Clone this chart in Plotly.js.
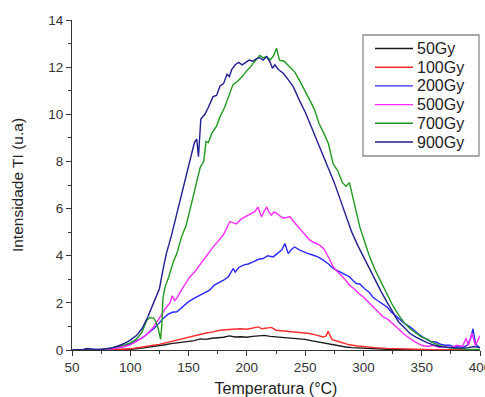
<!DOCTYPE html>
<html>
<head>
<meta charset="utf-8">
<script src="https://cdn.plot.ly/plotly-3.0.1.min.js"></script>
<style>html,body{margin:0;padding:0;background:#fff;}#chart{width:485px;height:397px;}</style>
</head>
<body>
<div id="chart"></div>
<script>
// Temperatures (°C) and TL intensities (u.a) per dose
const seriesNames = ["50Gy", "100Gy", "200Gy", "500Gy", "700Gy", "900Gy"];

const t50 = [50,60,63,66,70,80,90,100,105,110,115,120,125,130,135,140,145,150,155,160,165,170,175,180,185,190,195,200,205,210,215,220,225,230,235,240,245,250,255,260,265,270,275,280,285,290,300,310,320,330,340,360,400];
const v50 = [0,0.01,0.06,0.01,0,0,0.01,0.03,0.05,0.08,0.11,0.15,0.18,0.22,0.27,0.3,0.33,0.35,0.4,0.47,0.45,0.5,0.52,0.54,0.6,0.55,0.56,0.54,0.58,0.6,0.62,0.58,0.56,0.55,0.52,0.5,0.47,0.45,0.4,0.35,0.3,0.25,0.2,0.17,0.13,0.1,0.07,0.05,0.03,0.02,0.01,0,0];

const t100 = [50,60,70,80,90,100,105,110,115,120,125,130,135,140,145,150,155,160,165,170,177,185,194,200,205,209.8,213,217,221,225,230,235,240,245,250,254,258,262,265.5,268,269.8,271,273,277,282,288,295,300,310,320,330,340,350,360,370,380,400];
const v100 = [0,0,0,0.01,0.02,0.05,0.08,0.11,0.15,0.2,0.24,0.3,0.36,0.43,0.5,0.56,0.62,0.68,0.72,0.76,0.84,0.87,0.9,0.88,0.93,0.98,0.9,0.92,0.96,0.84,0.82,0.8,0.77,0.75,0.72,0.7,0.65,0.6,0.55,0.6,0.8,0.65,0.45,0.38,0.3,0.22,0.17,0.14,0.1,0.07,0.05,0.03,0.02,0.01,0.01,0,0];

const t200 = [50,60,70,80,85,90,95,100,105,110,115,120,125,128,132,136,140,144,148,150,155,160,164,168,172,176,180,184,188.4,190,193,197,201,205.5,210,214,218,222.6,226,230,232.7,235.5,238,241,245,248.4,252,257,261,265.5,270,274,278,282.7,288,291,294,297,301,305,308,312,316,320,324,328.5,332,336,340,344,348,351,355,358,362,366,370,374,378,382,385,389,392,394,396,398,400];
const v200 = [0,0,0.01,0.03,0.06,0.1,0.16,0.25,0.38,0.52,0.7,0.9,1.15,1.33,1.5,1.6,1.62,1.8,1.97,2.05,2.2,2.32,2.45,2.54,2.75,2.85,2.96,3.1,3.46,3.3,3.5,3.6,3.65,3.74,3.85,3.88,4.0,3.95,4.1,4.25,4.52,4.09,4.25,4.37,4.25,4.16,4.1,4.02,3.95,3.81,3.65,3.46,3.35,3.24,3.1,2.95,2.82,2.8,2.6,2.45,2.25,2.1,1.95,1.83,1.6,1.4,1.25,1.1,0.98,0.8,0.65,0.55,0.45,0.35,0.34,0.25,0.2,0.2,0.12,0.15,0.1,0.2,0.5,0.9,0.3,0.15,0.1];

const t500 = [50,60,70,80,85,90,95,100,105,110,115,120,125,130,134,136,138,140,144,148,151,155,160,165,170,175,180,183,185.5,188,191,195,200,204,207,209.5,212.5,215,217,219,221,223,225.5,228,231,234,237,241,245.5,250,254,258,262.5,266,268.5,271,274,278,282.5,285,288,292,296,300,304,308,312,317,321,325.5,330,334,338,342.5,346,350,355,360,365,370,375,380,385,388,390,393,396,400];
const v500 = [0,0,0.01,0.03,0.06,0.1,0.15,0.22,0.35,0.5,0.7,0.98,1.35,1.75,2.0,2.3,2.1,2.2,2.55,2.85,3.1,3.3,3.65,4.0,4.3,4.6,4.9,5.2,5.45,5.4,5.35,5.55,5.7,5.8,5.88,6.07,5.65,5.9,6.07,5.85,5.72,5.85,5.8,5.7,5.6,5.62,5.65,5.4,5.15,4.9,4.66,4.55,4.45,4.3,4.1,3.85,3.52,3.3,3.1,2.95,2.75,2.6,2.4,2.25,2.05,1.85,1.65,1.4,1.3,1.12,0.9,0.7,0.55,0.4,0.3,0.2,0.15,0.2,0.12,0.15,0.1,0.2,0.15,0.5,0.2,0.7,0.2,0.6];

const t700 = [50,60,65,70,75,80,85,90,95,100,105,110,114,117,120,122,124,126,127,128,130,133,137,140,144,148,152,155,160,163,165,167,170,174,177,181,185,188,192,196,200,203,206,209,211,214,217,220,223,225.5,228,232,237,241,245,250,254,258,262,266,270,274,278,282,285,288,290,293,297,301,305,310,315,320,325,330,335,340,345,350,355,360,365,370,375,380,390,400];
const v700 = [0,0,0.02,0.02,0.03,0.05,0.1,0.15,0.22,0.3,0.45,0.75,1.25,1.38,1.35,1.2,0.9,0.45,1.0,2.2,2.7,3.1,3.75,4.1,4.8,5.3,6.1,6.7,7.75,8.0,8.85,8.8,9.2,9.5,9.9,10.3,10.8,11.25,11.4,11.6,11.85,12.0,12.2,12.4,12.5,12.4,12.45,12.3,12.5,12.8,12.3,12.25,12.0,11.8,11.45,11.0,10.6,10.2,9.6,9.2,8.75,7.9,7.6,7.1,6.95,7.1,6.7,6.0,5.2,4.6,4.0,3.4,2.9,2.4,1.9,1.5,1.15,0.9,0.72,0.55,0.45,0.3,0.2,0.12,0.08,0.06,0.03,0.02];

const t900 = [50,55,60,65,70,75,80,85,90,95,100,105,110,115,120,125,128,131,135,140,144,148,152,155,157,158.5,160.5,164,167,171,174,177,180,183,185,187,190,193,196,199,202,205,208,211,214,217,220,222,224,227,231,235,240,245,250,255,260,265,270,275,280,285,290,295,300,305,310,315,320,325,330,335,340,345,350,355,360,365,370,375,380,385,390,395,400];
const v900 = [0,0,0.02,0.05,0.01,0.02,0.05,0.1,0.18,0.28,0.42,0.6,0.9,1.4,2.0,2.6,3.4,4.1,4.8,5.8,6.7,7.5,8.2,8.8,8.95,8.2,9.8,10.0,10.3,10.75,10.8,11.2,11.3,11.7,11.6,11.9,12.1,12.2,12.1,12.2,12.3,12.25,12.35,12.4,12.3,12.45,12.2,11.95,12.1,11.9,11.75,11.5,11.15,10.6,10.1,9.5,8.9,8.3,7.7,7.1,6.4,5.7,5.0,4.45,3.95,3.45,2.95,2.5,2.05,1.65,1.2,0.95,0.7,0.55,0.42,0.3,0.22,0.15,0.12,0.1,0.1,0.08,0.1,0.15,0.1];

const xTicks = [50,100,150,200,250,300,350,400];
const yTicks = [0,2,4,6,8,10,12,14];

const xs = [t50, t100, t200, t500, t700, t900];
const ys = [v50, v100, v200, v500, v700, v900];
const colors = ["#1a1a1a", "#ff2a2a", "#2a2aff", "#ff2aff", "#1f9a1f", "#1f1f8f"];

const traces = seriesNames.map((n, i) => ({
  x: xs[i], y: ys[i], name: n, type: "scatter", mode: "lines",
  line: {color: colors[i], width: 1.4}
}));

// Legend drawn as a box with line samples and labels (paper coordinates from pixel layout)
const W = 485, H = 397, M = {l: 72, r: 5, t: 20, b: 47};
const pw = W - M.l - M.r, ph = H - M.t - M.b;
const px = v => (v - M.l) / pw;
const py = v => (H - M.b - v) / ph;
const legTop = 35, legBot = 156, legLeft = 363, legRight = 479;
const rowY0 = 48.5, rowStep = 18.7, lineX0 = 375, lineX1 = 413, textX = 415;

const shapes = [{type: "rect", xref: "paper", yref: "paper",
  x0: px(legLeft), x1: px(legRight), y0: py(legBot), y1: py(legTop),
  line: {color: "#8a8a8a", width: 1.3}, fillcolor: "#fff", layer: "above"}];
const annotations = [];
seriesNames.forEach((n, i) => {
  const yy = py(rowY0 + i * rowStep);
  shapes.push({type: "line", xref: "paper", yref: "paper",
    x0: px(lineX0), x1: px(lineX1), y0: yy, y1: yy,
    line: {color: colors[i], width: 1.4}, layer: "above"});
  annotations.push({xref: "paper", yref: "paper", x: px(textX), y: yy,
    xanchor: "left", yanchor: "middle", showarrow: false, text: n,
    font: {family: "Liberation Sans, Arial, sans-serif", size: 16, color: "#222"}});
});

const fontFam = "Liberation Sans, Arial, sans-serif";
const layout = {
  width: W, height: H,
  margin: M,
  paper_bgcolor: "#fff", plot_bgcolor: "#fff",
  showlegend: false,
  shapes: shapes, annotations: annotations,
  xaxis: {range: [50, 400], tickvals: xTicks, ticktext: xTicks.map(String),
    ticks: "outside", ticklen: 5, tickcolor: "#333", tickwidth: 1,
    minor: {ticks: "outside", ticklen: 3, dtick: 25, tickcolor: "#333"},
    showline: true, linecolor: "#333", linewidth: 1, showgrid: false, zeroline: false,
    ticklabeloverflow: "allow", automargin: false,
    tickfont: {family: fontFam, size: 13.5, color: "#333"},
    title: {text: "Temperatura (°C)", font: {family: fontFam, size: 16, color: "#222"}, standoff: 19}},
  yaxis: {range: [0, 14], tickvals: yTicks, ticktext: yTicks.map(String),
    ticks: "outside", ticklen: 5, tickcolor: "#333", tickwidth: 1,
    minor: {ticks: "outside", ticklen: 3, dtick: 1, tickcolor: "#333"},
    showline: true, linecolor: "#333", linewidth: 1, showgrid: false, zeroline: false,
    automargin: false,
    tickfont: {family: fontFam, size: 13.5, color: "#333"},
    title: {text: "Intensidade TI (u.a)", font: {family: fontFam, size: 15.5, color: "#222"}, standoff: 20}}
};
Plotly.newPlot("chart", traces, layout, {displayModeBar: false, staticPlot: true});
</script>
</body>
</html>
